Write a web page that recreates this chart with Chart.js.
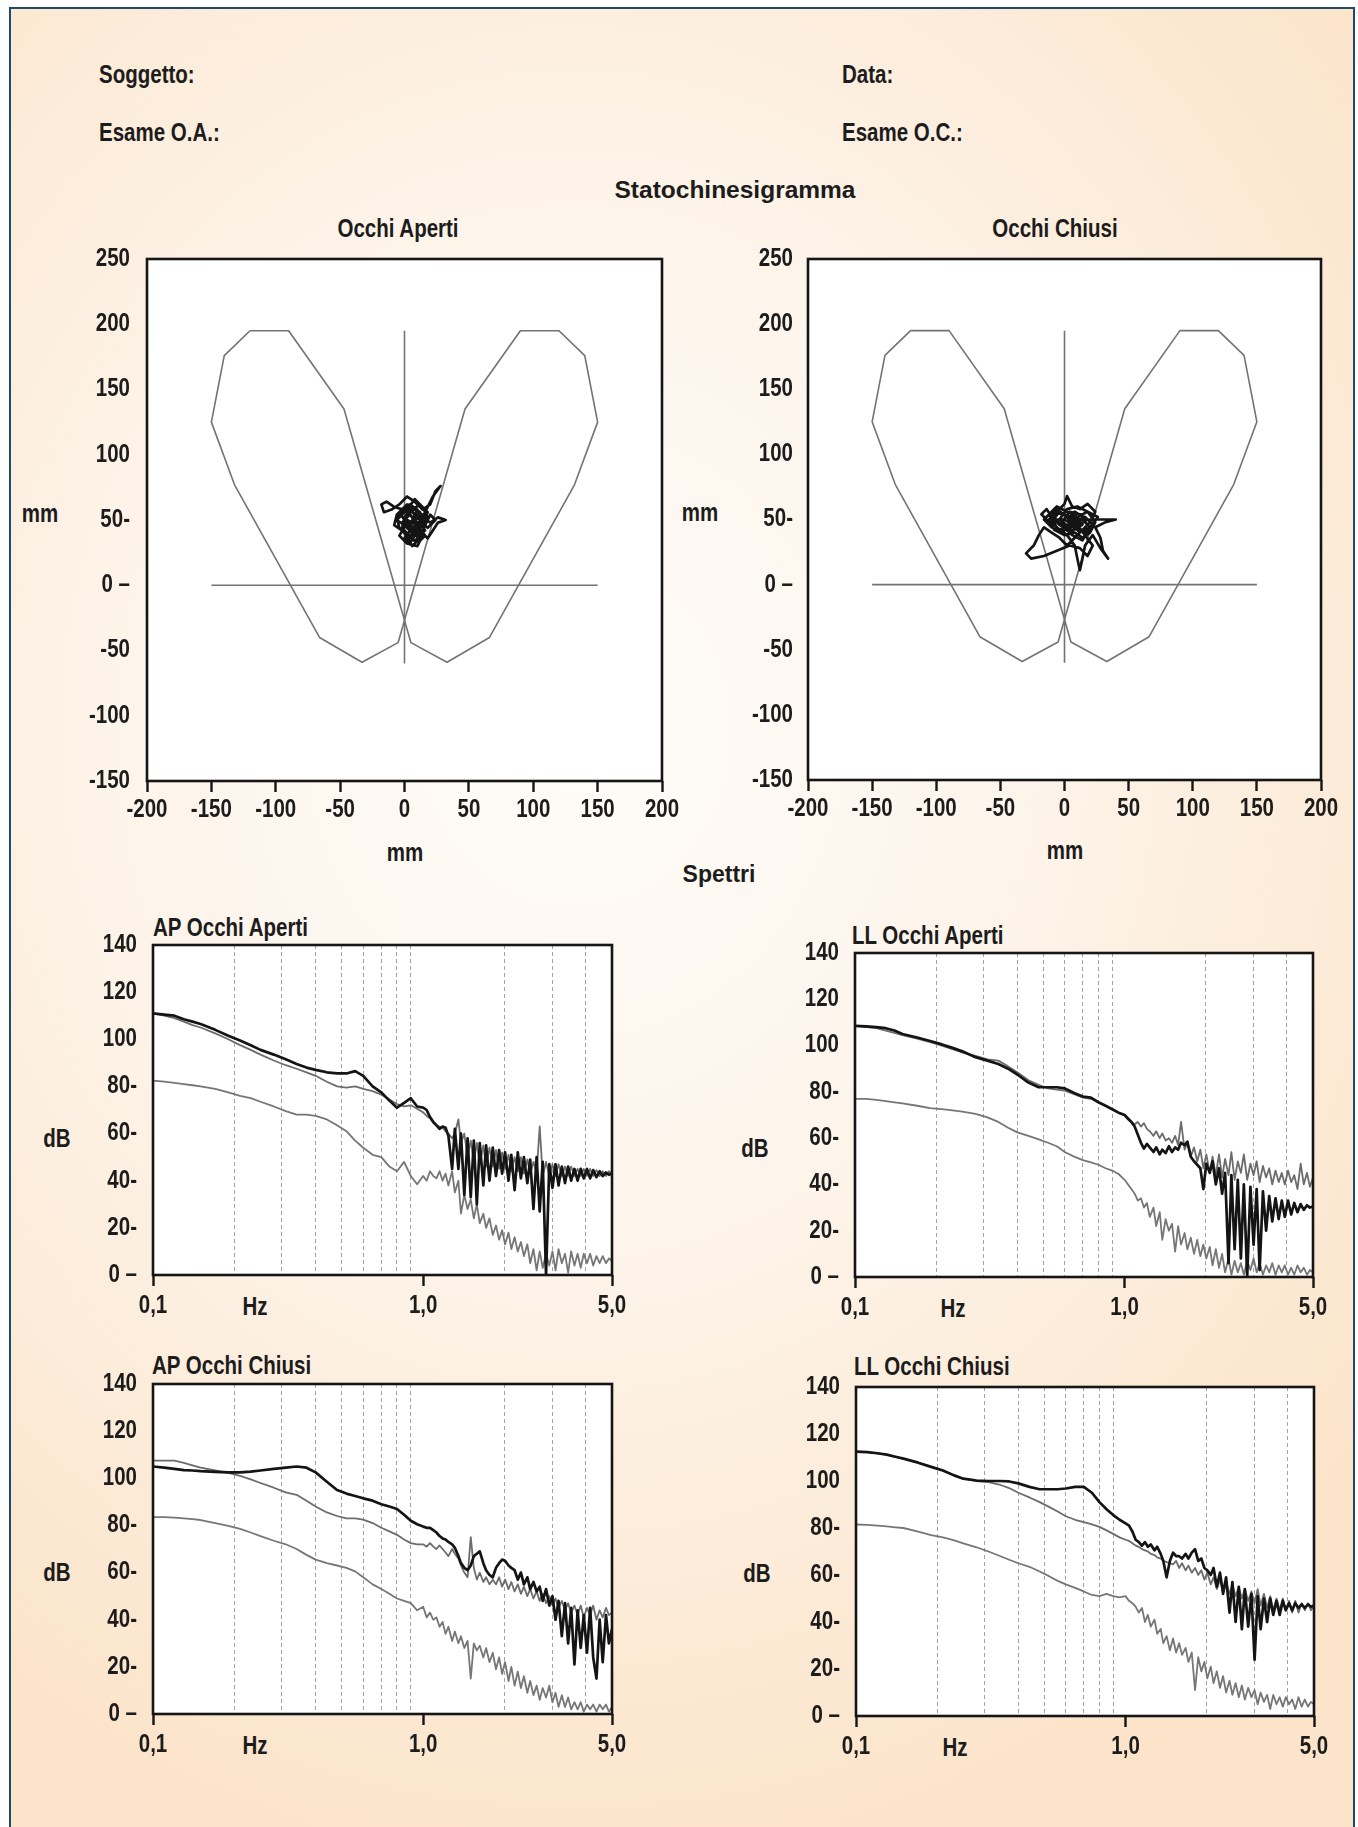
<!DOCTYPE html>
<html>
<head>
<meta charset="utf-8">
<script src="https://cdn.jsdelivr.net/npm/chart.js@4.4.1/dist/chart.umd.min.js"></script>
<style>
body { margin: 0; background: #fff; }
#page { position: relative; width: 1358px; height: 1827px; overflow: hidden; background: #fff;
        font-family: 'Liberation Sans', Arial, sans-serif; color: #1c1c1c; }
#frame { position: absolute; left: 9px; top: 7px; width: 1342px; height: 1900px; border: 2px solid #1f4b68;
         background: radial-gradient(ellipse 75% 60% at 42% 38%, #fefcf9 0%, #fdf4ea 45%, #fbe4ca 100%); }
.t { position: absolute; font-weight: bold; font-size: 25px; white-space: nowrap; line-height: 1; }
.c { transform: translate(-50%, -50%) scaleX(0.82); transform-origin: 50% 50%; }
.l { transform: translateY(-50%) scaleX(0.82); transform-origin: 0 50%; }
.w { transform: translate(-50%, -50%); }
canvas { position: absolute; }
</style>
</head>
<body>
<div id="page">
  <div id="frame"></div>

  <div class="t l" style="left:99px;top:74px">Soggetto:</div>
  <div class="t l" style="left:842px;top:74px">Data:</div>
  <div class="t l" style="left:99px;top:132px">Esame O.A.:</div>
  <div class="t l" style="left:842px;top:132px">Esame O.C.:</div>
  <div class="t w" style="left:735px;top:190px;font-size:24.5px">Statochinesigramma</div>
  <div class="t c" style="left:398px;top:228px">Occhi Aperti</div>
  <div class="t c" style="left:1055px;top:228px">Occhi Chiusi</div>
  <div class="t c" style="left:40px;top:513px">mm</div>
  <div class="t c" style="left:700px;top:512px">mm</div>
  <div class="t c" style="left:405px;top:852px">mm</div>
  <div class="t c" style="left:1065px;top:850px">mm</div>
  <div class="t w" style="left:719px;top:874px;font-size:23px">Spettri</div>

  <div class="t l" style="left:153px;top:927px">AP Occhi Aperti</div>
  <div class="t l" style="left:852px;top:935px">LL Occhi Aperti</div>
  <div class="t l" style="left:152px;top:1365px">AP Occhi Chiusi</div>
  <div class="t l" style="left:854px;top:1366px">LL Occhi Chiusi</div>
  <div class="t c" style="left:57px;top:1138px">dB</div>
  <div class="t c" style="left:755px;top:1148px">dB</div>
  <div class="t c" style="left:57px;top:1572px">dB</div>
  <div class="t c" style="left:757px;top:1573px">dB</div>
  <div class="t c" style="left:255px;top:1306px">Hz</div>
  <div class="t c" style="left:953px;top:1308px">Hz</div>
  <div class="t c" style="left:255px;top:1745px">Hz</div>
  <div class="t c" style="left:955px;top:1747px">Hz</div>

  <canvas id="sOpen"></canvas>
  <canvas id="sClosed"></canvas>
  <canvas id="apOpen"></canvas>
  <canvas id="llOpen"></canvas>
  <canvas id="apClosed"></canvas>
  <canvas id="llClosed"></canvas>
</div>

<script>
// ---- statokinesigram data (mm) ----
const mmTicksY = { 250: '250', 200: '200', 150: '150', 100: '100', 50: '50-', 0: '0 \u2013', '-50': '-50', '-100': '-100', '-150': '-150' };

const stabilityLimit = [[-120,195],[-90,195],[-47,135],[5,-44],[33,-59],[66,-40],[132,77],[150,125],[140,176],
  [120,195],[90,195],[47,135],[-5,-44],[-33,-59],[-66,-40],[-132,77],[-150,125],[-140,176],[-120,195]];
const crossH = [[-150,0],[150,0]];
const crossV = [[0,-60],[0,195]];

const swayOpen = [[-2,55],[4,62],[10,58],[6,50],[12,44],[18,52],[14,60],[8,66],[2,58],[-6,52],[-4,44],[2,38],[8,34],
  [14,40],[10,48],[4,54],[-2,48],[0,40],[6,30],[12,36],[16,46],[20,54],[24,50],[18,44],[12,50],[6,56],[-8,60],
  [-14,64],[-18,62],[-16,56],[-10,58],[-4,62],[2,68],[8,64],[14,58],[20,62],[24,72],[28,76],[22,68],[16,56],
  [10,44],[4,36],[-2,42],[-8,46],[-6,54],[0,60],[6,52],[12,42],[18,36],[22,42],[26,48],[32,50],[26,52],[20,48],
  [14,52],[8,44],[2,48],[-4,38],[2,32],[10,30],[14,38],[8,42],[4,46],[10,54],[16,50],[12,46],[6,40],[0,46],
  [-6,50],[0,56],[8,58],[14,54],[6,48],[2,44],[8,50],[12,56],[6,60],[0,52],[4,42],[10,38],[16,42],[12,48],
  [6,44],[0,36],[4,32],[8,38],[14,46],[18,56],[12,62],[6,58],[0,50],[-4,56],[2,62],[8,54],[14,50],[10,42],
  [4,38],[-2,44],[2,50],[10,46],[16,38],[12,34],[8,40],[4,48],[10,52]];

const swayClosed = [[2,50],[8,56],[14,52],[10,44],[4,40],[-4,46],[-10,52],[-14,58],[-18,54],[-12,48],[-6,56],
  [0,62],[2,68],[6,60],[12,58],[18,62],[24,56],[20,48],[14,42],[8,36],[2,30],[-4,36],[-10,40],[-16,44],[-20,38],
  [-24,30],[-30,24],[-26,20],[-16,22],[-6,26],[4,30],[12,28],[18,22],[22,30],[16,38],[10,46],[4,52],[-4,56],
  [-10,48],[-4,42],[4,46],[12,50],[20,50],[30,50],[40,50],[32,48],[24,44],[28,36],[30,26],[34,20],[28,28],
  [22,38],[16,30],[14,20],[12,11],[10,20],[8,30],[2,38],[-6,44],[-12,54],[-6,60],[2,56],[10,52],[18,56],[26,52],
  [20,44],[12,40],[6,46],[0,50],[-8,50],[-2,46],[6,42],[14,46],[8,50],[0,44],[8,48],[16,52],[22,46],[16,40],
  [8,44],[2,52],[-6,58],[-12,50],[-8,42],[0,38],[8,40],[14,36],[20,40],[24,48],[18,56],[10,60],[2,58],[-4,50],
  [4,44],[12,46],[18,50],[12,54],[4,56],[-2,48],[6,38],[14,34],[20,44],[14,50],[6,52],[-2,54],[-10,56],[-16,50],
  [-10,44],[-2,40],[6,48],[12,42]];

// ---- spectra data (Hz / dB) ----
const hzTicks = [0.1,0.2,0.3,0.4,0.5,0.6,0.7,0.8,0.9,1,2,3,4,5];
const hzLabels = { 0.1: '0,1', 1: '1,0', 5: '5,0' };
const dbTicks = { 140: '140', 120: '120', 100: '100', 80: '80-', 60: '60-', 40: '40-', 20: '20-', 0: '0 \u2013' };

const freq = [0.10,0.11,0.12,0.13,0.14,0.15,0.17,0.19,0.21,0.23,0.25,0.28,0.31,0.34,0.37,0.40,0.44,0.48,0.52,0.56,
  0.60,0.65,0.70,0.75,0.80,0.85,0.90,0.95,
  1.00,1.03,1.06,1.09,1.12,1.15,1.18,1.21,1.24,1.28,1.31,1.35,1.38,1.42,1.46,1.50,1.54,1.58,1.62,1.67,
  1.71,1.76,1.81,1.86,1.91,1.96,2.01,2.07,2.12,2.18,2.24,2.30,2.36,2.43,2.49,2.56,2.63,2.70,2.77,2.85,
  2.93,3.01,3.09,3.17,3.26,3.35,3.44,3.53,3.63,3.73,3.83,3.93,4.04,4.15,4.26,4.38,4.50,4.62,4.75,4.87,5.00];

const apOpenBlack = [111,110.5,110,108.5,107.5,106.5,104,101.5,99.5,97.5,95.5,93.5,91.5,89.5,88,87,86,85.5,85.5,86.5,
  84.5,80,77.5,74,71,73,75,71.5,
  71,70,67,65,63.5,62,63,62.5,59,45,62,45,60,34,58,33,57,30,56,38,55,40,54,42,53,43,52,40,51,36,
  52,41,50,39,49,28,50,27,48,0,47,37,47,38,46,39,46,40,45,40,45,41,45,41,44.5,41.5,44,42,43.5,42.5,43];
const apOpenGray = [111,110,109,107.5,106,105,102.5,100,97.5,95.5,93.5,91,89,87.5,86,84.5,82,80,79.5,80,
  79,78,76.5,74.5,72.5,71.5,72,70.5,
  69,67.5,66.5,64.5,63.5,63,62.5,61,60,58,60,66,56,60,50,57,48,56,47,55,46,54,46,53,45,52,45,51,44,50,
  44,50,43,49,43,48,43,63,42,48,42,47,42,47,42,46,42,46,42,45,42,45,42,45,42,44.5,42,44,42,44,43];
const apOpenLow = [82.5,82,81.5,81,80.5,80,79,77.5,76,75,73.5,71.5,69.5,68,68,67.5,66,63.5,61,57,
  54,51,50,46,44,48,42,38.5,
  42,40,44,42,41,44,40,43,38,44,35,40,26,34,28,32,24,30,22,26,20,24,17,21,15,19,13,18,11,16,
  10,14,8,13,5,11,2,10,3,9,4,10,2,11,5,9,1,10,4,9,3,9,5,9,4,8,5,8,5,7,6];

const llOpenBlack = [108.5,108.3,108,107.5,106.5,105,103.5,102,100.5,99,97.5,95,93.5,92,90,87.5,84,82,82,82,
  81.5,79.5,78,77.5,75.5,74,72.5,71,
  70,68.5,67,65,61.5,58,55.5,57.5,56,54,56,53,55,53.5,56.5,54,56,55,58,57,58.5,52,50,48.5,47,38,49,45,50,40,
  47,36,45,6,44,12,42,8,40,0,39,14,38,3,37,20,35,24,34,25,33,26,33,27,32,28,31.5,29,31,30,30.5];
const llOpenGray = [108.5,108,107.5,106.5,105.5,104.5,103,101.5,100,98.5,97,95.5,94,93.5,91,88.5,85,83,81.5,81,
  80.5,79,77.5,77,75.5,74,72.5,71,
  70,68,67,66,67,65,66.5,64,63,61,63,60,62,59,60,58,61,57,67,55,58,52,56,50,55,47,53,45,52,44,
  53,43,51,44,54,42,50,45,53,42,49,44,50,41,48,43,47,40,46,41,45,40,46,41,44,38,49,40,45,39,43];
const llOpenLow = [77,77,76.5,76,75.5,75,74,73,72.5,72,71.5,70.5,69,67,64.5,62.5,61,59.5,58,56.5,
  54,52,50.5,49.5,48.5,47,46,44.5,
  42,40,38,36,33,34,30,32,26,30,22,28,16,25,20,23,11,22,14,19,12,17,10,16,9,14,8,13,5,12,
  4,10,2,8,1,7,2,6,1,7,3,8,2,6,1,5,2,6,1,5,2,5,1,4,1,5,2,4,1,3,2];

const apClosedBlack = [105,104.5,104,103.5,103.3,103,102.7,102.5,102.5,102.8,103.3,104,104.5,105,104.5,102.5,98.5,95,93.5,92.5,
  91.5,90.5,89,88,87,84.5,82,80.5,
  79.5,79,79,78,77,75.5,74.5,74,73,72,70.5,67,64,62,61,63,67,68,69,64,61,59,58,62,64,65.5,65,63,62,61,
  57,60,55,58,53,56,52,54,48,53,46,50,40,48,33,47,30,45,21,44,28,42,26,45,24,15,40,22,42,30,36];
const apClosedGray = [107.5,107.5,107.5,106.5,105.5,104.5,103.3,102.3,101,99.5,98,96,94,93,90.5,88,85.5,84,83,83,
  82.5,81,79,77.5,76,74,72.5,72,
  72,71,72.5,71,70,71.5,70,68.5,67,70,68,66,63,60,58,75,62,57,60,56,58,55,57,55,58,54,57,53,56,52,
  55,51,54,50,53,49,52,48,51,47,50,46,49,45,48,44,47,43,46,42,46,41,45,42,46,40,44,41,45,42,43];
const apClosedLow = [83.5,83.5,83.3,83,82.7,82.3,81,79.8,78.5,77,75.5,73.5,72,70,67.5,65.5,64,63,62,60.5,
  58,55,53,51,49,48,47,44,
  45.5,41,43,40,41,37,39,34,37,31,35,30,33,28,31,15,30,27,29,24,28,22,26,19,24,17,22,14,20,12,
  18,11,16,9,14,8,12,6,11,7,12,5,9,3,8,3,7,2,5,2,5,1,4,2,4,1,4,2,4,1,3];

const llClosedBlack = [112.5,112.3,111.8,111.2,110.3,109.5,107.8,106,104.5,102.5,101,100.2,100,100,99.8,99,97.5,96.5,96.5,96.5,
  96.8,97.5,97.5,95,91,88,85.5,83.5,
  82,81,78.5,75,74,72.5,74,72,73,70.5,72,69,66,59,66,69.5,68,68,67,69,67,69.5,71,66,67,63,62,60,63,55,
  61,52,59,44,57,40,55,37,54,38,52,24,51,37,50,40,50,43,49,43,49,45,48,45,48,46,47.5,46,47.5,46.5,47];
const llClosedGray = [112.5,112.3,111.8,111.2,110.3,109.5,107.8,106,104.5,102.5,101,100,99.5,98.5,97,95,93,91,89,87,
  85,83.5,82.5,81.5,80.5,79,77.5,76,
  75,74.5,73.5,72.5,72,71,70.5,70,69,68.5,67.5,67,66,65.5,65,64.5,66,63,65,62,64,61,63,60,62,58,61,56,59,54,
  58,53,57,52,56,51,55,50,54,49,53,48,54,47,52,46,51,45,50,45,50,45,49,44,49,44,48,45,48,45,47];
const llClosedLow = [81.5,81.3,81,80.7,80.3,80,78.5,77,76,74.8,73.5,71.8,70,68.2,66.5,65,63.5,61.5,59.5,57.5,
  56,54.5,53,51.5,51,52,51,50.5,
  51,49,48,46.5,44,46,40,43,38,41,35,37,31,34,28,33,27,31,26,29,23,27,11,25,19,23,16,21,14,19,
  12,17,10,15,9,14,8,13,7,12,8,11,5,10,6,9,3,9,5,8,4,8,5,7,3,8,4,7,4,6,5];

// ---- drawing ----
Chart.defaults.font.family = "'Liberation Sans', Arial, sans-serif";
Chart.defaults.font.size = 25;
Chart.defaults.font.weight = 'bold';
Chart.defaults.color = '#1c1c1c';
Chart.defaults.animation = false;

const INK = '#151515';
const NONE = 'rgba(0,0,0,0)';

const boxPlugin = {
  id: 'box',
  beforeDraw(chart) {
    const { ctx, chartArea: a } = chart;
    ctx.save();
    ctx.fillStyle = '#fff';
    ctx.fillRect(a.left, a.top, a.width, a.height);
    ctx.restore();
  },
  afterDatasetsDraw(chart) {
    const { ctx, chartArea: a } = chart;
    ctx.save();
    ctx.strokeStyle = INK;
    ctx.lineWidth = 2.6;
    ctx.strokeRect(a.left, a.top, a.width, a.height);
    ctx.restore();
  }
};

// tick labels in a narrow bold face (horizontally condensed), placed from the chart's own scales
function narrowText(ctx, text, x, y, align) {
  ctx.save();
  ctx.translate(x, y);
  ctx.scale(0.82, 1);
  ctx.textAlign = align;
  ctx.fillText(text, 0, 0);
  ctx.restore();
}
function tickLabels(xLabel, yLabel, xGap, yGap) {
  return {
    id: 'tickLabels',
    afterDraw(chart) {
      const { ctx, chartArea: a, scales } = chart;
      ctx.save();
      ctx.font = "bold 25px 'Liberation Sans', Arial, sans-serif";
      ctx.fillStyle = '#1c1c1c';
      ctx.textBaseline = 'middle';
      scales.x.ticks.forEach(t => {
        const s = xLabel(t.value);
        if (s) narrowText(ctx, s, scales.x.getPixelForValue(t.value), a.bottom + xGap, 'center');
      });
      scales.y.ticks.forEach(t => {
        const s = yLabel(t.value);
        if (s) narrowText(ctx, s, a.left - yGap, scales.y.getPixelForValue(t.value), 'right');
      });
      ctx.restore();
    }
  };
}

function place(id, box, yW, xH, padT, padR) {
  const cv = document.getElementById(id);
  cv.style.left = (box[0] - yW) + 'px';
  cv.style.top = (box[1] - padT) + 'px';
  cv.width = box[2] - box[0] + yW + padR;
  cv.height = box[3] - box[1] + padT + xH;
  return cv;
}

const pts = list => list.map(p => ({ x: p[0], y: p[1] }));
const onFreq = ys => freq.map((f, i) => ({ x: f, y: ys[i] }));

function trace(data, color, width) {
  return { data, showLine: true, borderColor: color, borderWidth: width, pointRadius: 0,
           tension: 0, borderJoinStyle: 'round', fill: false };
}

function statokinesigram(id, box, yW, yGap, sway) {
  const cv = place(id, box, yW, 62, 20, 32);
  new Chart(cv, {
    type: 'scatter',
    data: { datasets: [
      trace(pts(sway), '#141414', 2.7),
      trace(pts(stabilityLimit), '#737373', 1.6),
      trace(pts(crossH), '#737373', 1.6),
      trace(pts(crossV), '#737373', 1.6)
    ] },
    options: {
      responsive: false, events: [],
      layout: { padding: { top: 20, right: 32, left: 0, bottom: 0 } },
      plugins: { legend: { display: false }, tooltip: { enabled: false } },
      scales: {
        x: { type: 'linear', min: -200, max: 200,
             afterFit: s => { s.height = 62; },
             border: { display: false },
             grid: { drawOnChartArea: false, drawTicks: true, tickLength: 11, tickWidth: 2.4, tickColor: INK },
             ticks: { display: false, stepSize: 50, autoSkip: false, maxRotation: 0 } },
        y: { type: 'linear', min: -150, max: 250,
             afterFit: s => { s.width = yW; },
             border: { display: false },
             grid: { display: false, drawTicks: false },
             ticks: { display: false, stepSize: 50 } }
      }
    },
    plugins: [boxPlugin, tickLabels(v => String(v), v => mmTicksY[v], 29, yGap)]
  });
}

function spectrum(id, box, black, gray, low) {
  const cv = place(id, box, 62, 52, 18, 30);
  new Chart(cv, {
    type: 'scatter',
    data: { datasets: [
      trace(onFreq(black), '#141414', 2.7),
      trace(onFreq(gray), '#6c6c6c', 1.8),
      trace(onFreq(low), '#767676', 1.8)
    ] },
    options: {
      responsive: false, events: [],
      layout: { padding: { top: 18, right: 30, left: 0, bottom: 0 } },
      plugins: { legend: { display: false }, tooltip: { enabled: false } },
      scales: {
        x: { type: 'logarithmic', min: 0.1, max: 5,
             afterBuildTicks: s => { s.ticks = hzTicks.map(v => ({ value: v })); },
             afterFit: s => { s.height = 52; },
             border: { display: false, dash: [4, 3] },
             grid: { lineWidth: 1, borderDash: [4, 3], tickBorderDash: [],
                     color: c => (c.tick && hzLabels[c.tick.value]) ? NONE : '#a2a2a2',
                     tickColor: c => (c.tick && hzLabels[c.tick.value]) ? INK : NONE,
                     tickLength: 11, tickWidth: 2.4 },
             ticks: { display: false, autoSkip: false, maxRotation: 0 } },
        y: { type: 'linear', min: 0, max: 140,
             afterFit: s => { s.width = 62; },
             border: { display: false },
             grid: { display: false, drawTicks: false },
             ticks: { display: false, stepSize: 20 } }
      }
    },
    plugins: [boxPlugin, tickLabels(v => hzLabels[v], v => dbTicks[v], 31, 16)]
  });
}

statokinesigram('sOpen', [147, 259, 662, 781], 130, 17, swayOpen);
statokinesigram('sClosed', [808, 259, 1321, 780], 110, 15, swayClosed);
spectrum('apOpen', [153, 945, 612, 1275], apOpenBlack, apOpenGray, apOpenLow);
spectrum('llOpen', [855, 953, 1313, 1277], llOpenBlack, llOpenGray, llOpenLow);
spectrum('apClosed', [153, 1384, 612, 1714], apClosedBlack, apClosedGray, apClosedLow);
spectrum('llClosed', [856, 1387, 1314, 1716], llClosedBlack, llClosedGray, llClosedLow);
</script>
</body>
</html>
